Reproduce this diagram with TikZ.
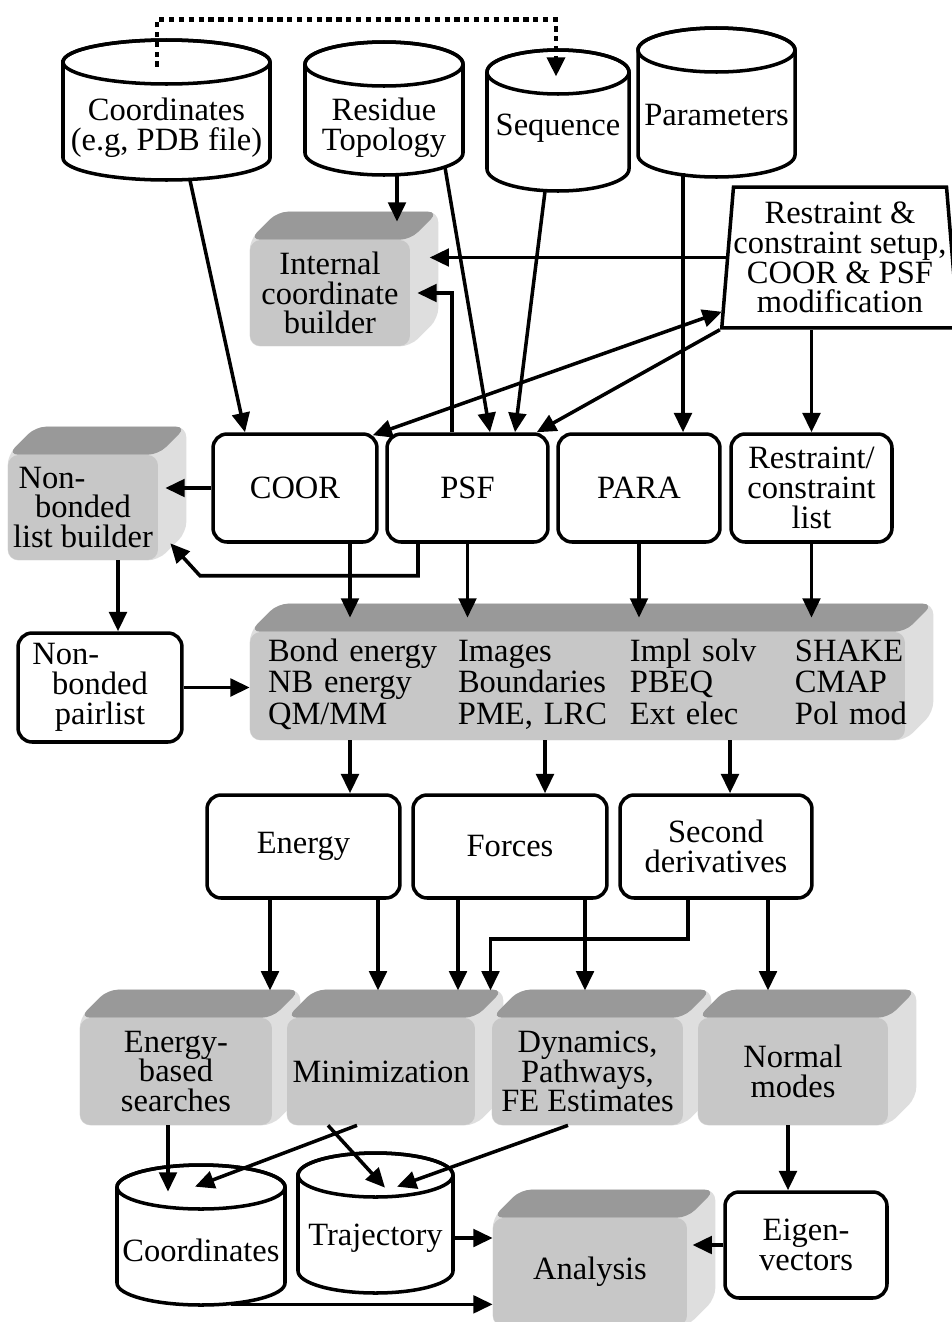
\documentclass[tikz,border=0pt]{standalone}
\usepackage{fontspec}
\setmainfont{Liberation Serif}
\usetikzlibrary{arrows.meta,shapes.geometric,fit,calc,backgrounds}

\tikzset{
  rim/.style={line width=2pt},
  arr/.style={line width=2pt, -{Triangle[length=11pt,width=10pt]}},
  twoway/.style={line width=2pt, {Triangle[length=11pt,width=10pt]}-{Triangle[length=11pt,width=10pt]}},
  dots/.style={line width=2.6pt, dash pattern=on 3pt off 2.6pt, -{Triangle[length=11pt,width=10pt]}},
  box/.style={draw, line width=2pt, rounded corners=8pt, fill=white, align=center, inner sep=0pt},
  block/.style={fill=black!22, rounded corners=6pt, align=center, inner sep=0pt},
}

% database drum: name, x, top, bottom, half width, text y, text
\newcommand{\tank}[7]{%
  \draw[rim, fill=white] (#2-#5,-#3-22) -- (#2-#5,-#4+22)
    arc[start angle=180, end angle=360, x radius=#5*0.02cm, y radius=0.44cm]
    -- (#2+#5,-#3-22)
    arc[start angle=0, end angle=180, x radius=#5*0.02cm, y radius=0.44cm] -- cycle;
  \draw[rim] (#2,-#3-22) ellipse[x radius=#5*0.02cm, y radius=0.44cm];
  \node[fit={(#2-#5,-#3) (#2+#5,-#4)}, inner sep=0pt] (#1) {};
  \node[align=center] (#1-txt) at (#2,-#6) {#7};
}

% top and side faces of a grey block
\newcommand{\slab}[1]{%
  \begin{scope}[on background layer]
    \fill[black!13, rounded corners=6pt] (#1.north west) -- ++(28,28) -- ($(#1.north east)+(28,28)$)
      -- ($(#1.south east)+(28,28)$) -- (#1.south east) -- (#1.south west) -- cycle;
    \fill[black!40, rounded corners=6pt] (#1.north west) -- ++(28,28) -- ($(#1.north east)+(28,28)$)
      -- (#1.north east) -- cycle;
  \end{scope}}

\begin{document}
\begin{tikzpicture}[x=0.02cm, y=0.02cm, every node/.style={font=\fontsize{18.5}{17}\selectfont}]
	\useasboundingbox (0,0) rectangle (952,-1322);
	% inputs
	\tank{crd}{166.5}{40}{180}{103.5}{128}{Coordinates\\(e.g, PDB file)}
	\tank{rtp}{384}{42}{175}{79}{128}{Residue\\Topology}
	\tank{seq}{558}{50}{191}{71}{128}{Sequence}
	\tank{pmt}{716.5}{28}{177}{78.5}{115}{Parameters}
	\node[trapezium, draw, rim, trapezium left angle=84, trapezium right angle=84, trapezium stretches,
	  minimum width=4.72cm, minimum height=2.82cm, inner sep=0pt, fill=white, align=center]
	  (rcs) at (840,-257.5) {Restraint \&\\constraint setup,\\COOR \& PSF\\modification};
	%
	\node[block, minimum width=3.2cm, minimum height=2.12cm] (icb) at (330,-293) {Internal\\coordinate\\builder};
	\node[block, minimum width=3cm, minimum height=2.1cm] (nbb) at (83,-507.5) {Non-\hspace*{1.9em}\\bonded\\list builder};
	\node[box, minimum width=3.28cm, minimum height=2.16cm] (coor) at (295,-488) {COOR};
	\node[box, minimum width=3.22cm, minimum height=2.16cm] (psf) at (467.5,-488) {PSF};
	\node[box, minimum width=3.24cm, minimum height=2.16cm] (para) at (639,-488) {PARA};
	\node[box, minimum width=3.22cm, minimum height=2.16cm] (rcl) at (811.5,-488) {Restraint/\\constraint\\list};
	\node[box, minimum width=3.28cm, minimum height=2.18cm] (nbp) at (100,-687.5) {Non-\hspace*{2.1em}\\bonded\\pairlist};
	\node[block, minimum width=13.1cm, minimum height=2.16cm, text width=12.38cm, inner xsep=0.36cm, align=left]
	  (eng) at (577.5,-686) {\begin{tabular}{@{}p{3.8cm}@{}p{3.44cm}@{}p{3.3cm}@{}l@{}}
	  Bond energy & Images & Impl solv & SHAKE\\
	  NB energy & Boundaries & PBEQ & CMAP\\
	  QM/MM & PME, LRC & Ext elec & Pol mod
	  \end{tabular}};
	%
	\node[box, minimum width=3.86cm, minimum height=2.06cm] (energy) at (303.5,-846.5) {Energy};
	\node[box, minimum width=3.88cm, minimum height=2.06cm] (forces) at (510,-846.5) {Forces};
	\node[box, minimum width=3.84cm, minimum height=2.06cm] (second) at (716,-846.5) {Second\\derivatives};
	%
	\node[block, minimum width=3.84cm, minimum height=2.14cm] (ebs) at (176,-1071.5) {Energy-\\based\\searches};
	\node[block, minimum width=3.76cm, minimum height=2.14cm] (mini) at (381,-1071.5) {Minimization};
	\node[block, minimum width=3.82cm, minimum height=2.14cm] (dyn) at (587.5,-1071.5) {Dynamics,\\Pathways,\\FE Estimates};
	\node[block, minimum width=3.8cm, minimum height=2.14cm] (nmd) at (793,-1071.5) {Normal\\modes};
	\node[block, minimum width=3.88cm, minimum height=2.16cm] (ana) at (590,-1272) {Analysis};
	\node[box, minimum width=3.24cm, minimum height=2.12cm] (eig) at (806,-1245) {Eigen-\\vectors};
	\tank{crd2}{201}{1165}{1305}{84}{1250}{Coordinates}
	\tank{trj}{375.5}{1153}{1293}{77.5}{1238}{Trajectory}
	%
	\slab{icb} \slab{nbb} \slab{eng} \slab{ebs} \slab{mini} \slab{dyn} \slab{nmd} \slab{ana}
	%
	\draw[dots] ($(crd.north)+(-9.5,-27)$) -- ++(0,47) -| ($(seq.north)+(-2,-27)$);
	\draw[arr] ($(crd.south)+(23.5,0)$) -- ($(coor.north)+(-50,0)$);
	\draw[arr] ($(rtp.south)+(13,0)$) -- ($(icb.north)+(67,18)$);
	\draw[arr] ($(rtp.south)+(61,8)$) -- ($(psf.north)+(22.5,0)$);
	\draw[arr] ($(seq.south)+(-13,0)$) -- ($(psf.north)+(47.5,0)$);
	\draw[arr] ($(pmt.south)+(-33.5,4)$) -- ($(para.north)+(44,0)$);
	\draw[arr, shorten >=11pt] (rcs.west) -- (rcs.west -| icb.east);
	\draw[arr, shorten >=4pt] ($(psf.north)+(-15.5,0)$) |- (icb.east);
	\draw[twoway] ($(coor.north east)+(-6,-3)$) -- ($(rcs.bottom left corner)+(2,18)$);
	\draw[arr] (rcs.bottom left corner) -- ($(psf.north east)+(-13,0)$);
	\draw[arr] (rcs.south -| rcl.north) -- (rcl.north);
	%
	\draw[arr, shorten >=4pt] (coor.west) -- (coor.west -| nbb.east);
	\draw[arr] ($(psf.south)+(-49.5,0)$) -- ++(0,-32) -- ++(-218,0) -- ($(nbb.south east)+(12,17)$);
	\draw[arr, shorten >=8pt] ($(coor.south)+(55,0)$) coordinate (c1) -- (c1 |- eng.north);
	\draw[arr, shorten >=8pt] (psf.south) -- (psf.south |- eng.north);
	\draw[arr, shorten >=8pt] (para.south) -- (para.south |- eng.north);
	\draw[arr, shorten >=8pt] (rcl.south) -- (rcl.south |- eng.north);
	\draw[arr] ($(nbb.south)+(35,0)$) coordinate (n1) -- (n1 |- nbp.north);
	\draw[arr] (nbp.east) -- (nbp.east -| eng.west);
	%
	\path ($(forces.north)+(35,0)$) coordinate (f1) ($(second.north)+(14,0)$) coordinate (s1);
	\draw[arr] (eng.south -| c1) -- (energy.north -| c1);
	\draw[arr] (eng.south -| f1) -- (f1);
	\draw[arr] (eng.south -| s1) -- (s1);
	%
	\draw[arr, shorten >=15.5pt] ($(energy.south)+(-33.5,0)$) coordinate (e1) -- (e1 |- ebs.north);
	\draw[arr, shorten >=15.5pt] ($(energy.south)+(74.5,0)$) coordinate (e2) -- (e2 |- mini.north);
	\draw[arr, shorten >=15.5pt] ($(forces.south)+(-52,0)$) coordinate (f2) -- (f2 |- mini.north);
	\draw[arr, shorten >=15.5pt] ($(forces.south)+(75,0)$) coordinate (f3) -- (f3 |- dyn.north);
	\draw[arr, shorten >=15.5pt] ($(second.south)+(-28,0)$) -- ++(0,-39) -| ($(mini.north)+(109.5,0)$);
	\draw[arr, shorten >=15.5pt] ($(second.south)+(52,0)$) coordinate (s2) -- (s2 |- nmd.north);
	%
	\draw[arr] ($(ebs.south)+(-8,0)$) -- ($(crd2.north)+(-33,-27)$);
	\draw[arr] ($(mini.south)+(-24,0)$) -- ($(crd2.north)+(-6,-22)$);
	\draw[arr] ($(mini.south)+(-53,0)$) -- ($(trj.north)+(9.5,-35)$);
	\draw[arr] ($(dyn.south)+(-19.5,0)$) -- ($(trj.north)+(21.5,-34)$);
	\draw[arr] ($(nmd.south)+(-5,0)$) coordinate (m1) -- (m1 |- eig.north);
	\draw[arr, shorten >=3pt] (eig.west) -- (eig.west -| ana.east);
	\draw[arr] (trj-txt.east -| trj.east) -- (trj-txt.east -| ana.west);
	\draw[arr] ($(crd2.south)+(30,1)$) coordinate (k1) -- (k1 -| ana.west);
\end{tikzpicture}
\end{document}
